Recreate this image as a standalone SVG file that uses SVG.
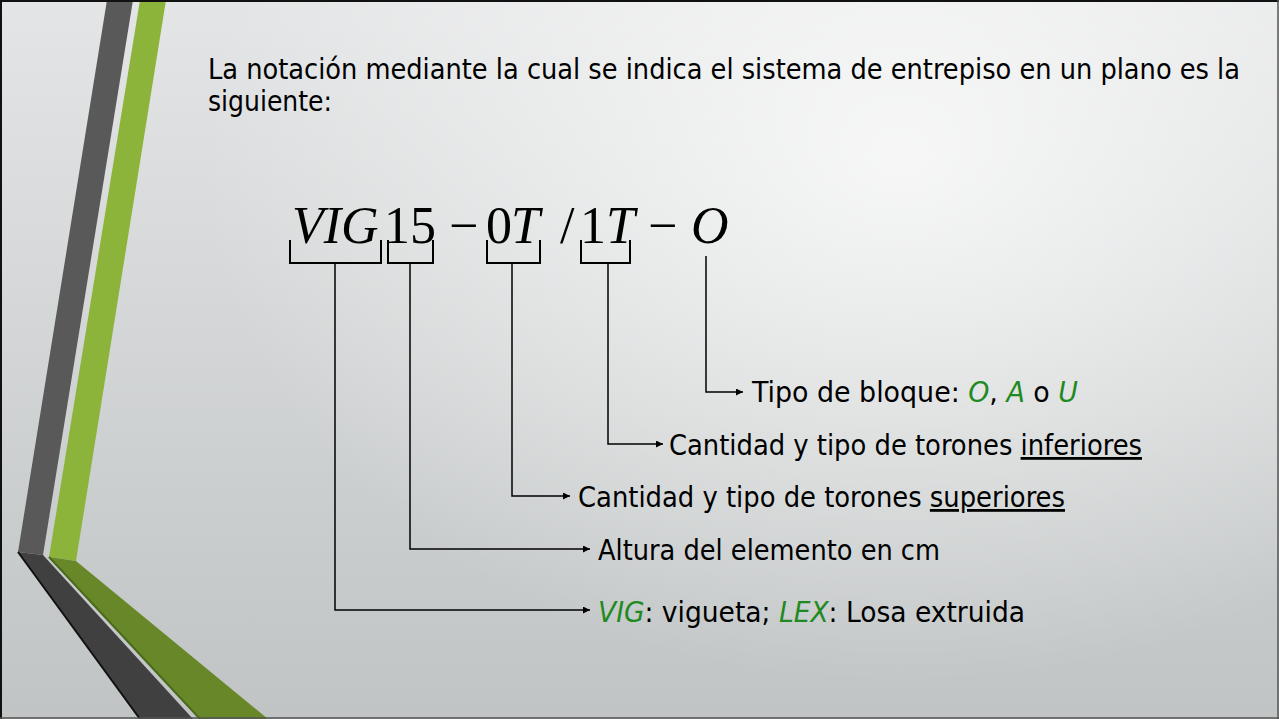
<svg xmlns="http://www.w3.org/2000/svg" width="1279" height="719" viewBox="0 0 1279 719">
<defs>
<linearGradient id="bgl" x1="0" y1="0" x2="0" y2="1">
<stop offset="0" stop-color="#e4e5e6"/>
<stop offset="1" stop-color="#c0c4c4"/>
</linearGradient>
<radialGradient id="bgr" gradientUnits="userSpaceOnUse" cx="900" cy="160" r="700" gradientTransform="translate(900 160) scale(1 0.75) translate(-900 -160)">
<stop offset="0" stop-color="#ffffff" stop-opacity="0.75"/>
<stop offset="1" stop-color="#ffffff" stop-opacity="0"/>
</radialGradient>
<marker id="arr" viewBox="0 0 10 10" refX="10" refY="5" markerWidth="8" markerHeight="7" markerUnits="userSpaceOnUse" orient="auto">
<path d="M0,0 L10,5 L0,10 z" fill="#000"/>
</marker>
<style>
.t{font-family:"DejaVu Sans Condensed","DejaVu Sans",sans-serif;font-stretch:condensed;font-size:28px;fill:#000}
.g{fill:#1f8a1f;font-style:italic}
.f{font-family:"Liberation Serif","Times New Roman",serif;font-size:52px;fill:#000}
.i{font-style:italic}
.br{fill:none;stroke:#000;stroke-width:2}
.cn{fill:none;stroke:#000;stroke-width:1.5}
</style>
</defs>
<rect width="1279" height="719" fill="url(#bgl)"/>
<rect width="1279" height="719" fill="url(#bgr)"/>
<g id="decor">
<polygon points="107,0 133,0 43,555 18,552" fill="#595959"/>
<polygon points="140,0 166,0 76,561 49,557" fill="#8cb43a"/>
<polygon points="18,552 43,555 193,719 140,719" fill="#404040"/>
<polyline points="18,552 140,719" fill="none" stroke="#111" stroke-width="2"/>
<polygon points="49,557 76,561 268,719 200,719" fill="#678729"/>
<polyline points="49,557 200,719" fill="none" stroke="#4a6a1a" stroke-width="2"/>
</g>
<g id="frame">
<line x1="0" y1="1" x2="1279" y2="1" stroke="#111" stroke-width="2"/>
<line x1="1" y1="0" x2="1" y2="719" stroke="#111" stroke-width="2"/>
<line x1="1278" y1="0" x2="1278" y2="719" stroke="#555" stroke-width="1.5"/>
<line x1="0" y1="718" x2="1279" y2="718" stroke="#555" stroke-width="1.5"/>
</g>
<g id="title">
<text class="t" x="208" y="79" textLength="1032" lengthAdjust="spacingAndGlyphs">La notación mediante la cual se indica el sistema de entrepiso en un plano es la</text>
<text class="t" x="208" y="111" textLength="124" lengthAdjust="spacingAndGlyphs">siguiente:</text>
</g>
<g id="formula">
<text class="f i" x="292" y="243">VIG</text>
<text class="f" x="384" y="243">1</text>
<text class="f" x="410" y="243">5</text>
<text class="f" x="449" y="243">−</text>
<text class="f" x="486" y="243">0</text>
<text class="f i" x="511" y="243">T</text>
<text class="f" x="560" y="243">/</text>
<text class="f" x="580" y="243">1</text>
<text class="f i" x="606" y="243">T</text>
<text class="f" x="648" y="243">−</text>
<text class="f i" x="691" y="243">O</text>
</g>
<g id="brackets">
<polyline class="br" points="290,240 290,263 381,263 381,240"/>
<polyline class="br" points="388,240 388,263 433,263 433,240"/>
<polyline class="br" points="487,240 487,263 540,263 540,240"/>
<polyline class="br" points="581,240 581,263 630,263 630,240"/>
</g>
<g id="connectors">
<polyline class="cn" points="706,256 706,392 743,392" marker-end="url(#arr)"/>
<polyline class="cn" points="608,263 608,444 663,444" marker-end="url(#arr)"/>
<polyline class="cn" points="512,263 512,496 570,496" marker-end="url(#arr)"/>
<polyline class="cn" points="410,263 410,549 590,549" marker-end="url(#arr)"/>
<polyline class="cn" points="335,263 335,610 590,610" marker-end="url(#arr)"/>
</g>
<g id="label-bloque">
<text class="t" x="752" y="402" textLength="326" lengthAdjust="spacingAndGlyphs">Tipo de bloque: <tspan class="g">O</tspan>, <tspan class="g">A</tspan> o <tspan class="g">U</tspan></text>
</g>
<g id="label-inferiores">
<text class="t" x="669" y="455" textLength="473" lengthAdjust="spacingAndGlyphs">Cantidad y tipo de torones <tspan text-decoration="underline">inferiores</tspan></text>
</g>
<g id="label-superiores">
<text class="t" x="578" y="507" textLength="487" lengthAdjust="spacingAndGlyphs">Cantidad y tipo de torones <tspan text-decoration="underline">superiores</tspan></text>
</g>
<g id="label-altura">
<text class="t" x="598" y="560" textLength="342" lengthAdjust="spacingAndGlyphs">Altura del elemento en cm</text>
</g>
<g id="label-vig">
<text class="t" x="598" y="622" textLength="427" lengthAdjust="spacingAndGlyphs"><tspan class="g">VIG</tspan>: vigueta; <tspan class="g">LEX</tspan>: Losa extruida</text>
</g>
</svg>
